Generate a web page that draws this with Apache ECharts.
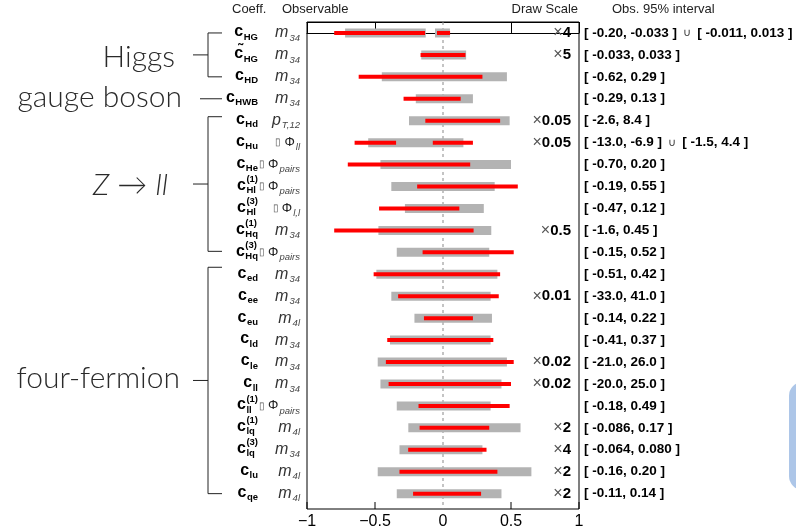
<!DOCTYPE html>
<html>
<head>
<meta charset="utf-8">
<title>EFT coefficient intervals</title>
<script src="https://cdn.jsdelivr.net/npm/echarts@6/dist/echarts.min.js"></script>
<style>
  html, body { margin: 0; padding: 0; background: #fff; }
  #chart { width: 796px; height: 526px; }
</style>
</head>
<body>
<div id="chart"></div>
<script>
// ---- data -------------------------------------------------------------
// Wilson coefficient labels: base symbol, subscript, superscript
const coeffBase = ['c', 'c\u0303', 'c', 'c', 'c', 'c', 'c', 'c', 'c', 'c', 'c',
                   'c', 'c', 'c', 'c', 'c', 'c', 'c', 'c', 'c', 'c', 'c'];
const coeffSub = ['HG', 'HG', 'HD', 'HWB', 'Hd', 'Hu', 'He', 'Hl', 'Hl', 'Hq', 'Hq',
                  'ed', 'ee', 'eu', 'ld', 'le', 'll', 'll', 'lq', 'lq', 'lu', 'qe'];
const coeffSup = ['', '', '', '', '', '', '', '(1)', '(3)', '(1)', '(3)',
                  '', '', '', '', '', '', '(1)', '(1)', '(3)', '', ''];

// Observable used for each coefficient
const obsPrefix = ['', '', '', '', '', '\u25AF', '\u25AF', '\u25AF', '\u25AF', '', '\u25AF',
                   '', '', '', '', '', '', '\u25AF', '', '', '', ''];
const obsMain = ['m', 'm', 'm', 'm', 'p', '\u03A6', '\u03A6', '\u03A6', '\u03A6', 'm', '\u03A6',
                 'm', 'm', 'm', 'm', 'm', 'm', '\u03A6', 'm', 'm', 'm', 'm'];
const obsSub = ['34', '34', '34', '34', 'T,12', 'll', 'pairs', 'pairs', 'l,l', '34', 'pairs',
                '34', '34', '4l', '34', '34', '34', 'pairs', '4l', '34', '4l', '4l'];

// Draw scale applied to each row ('' = 1)
const drawScale = ['4', '5', '', '', '0.05', '0.05', '', '', '', '0.5', '',
                   '', '0.01', '', '', '0.02', '0.02', '', '2', '4', '2', '2'];

// Observed 95% intervals (unscaled), possibly disjoint
const obsInterval = [
  [['-0.20', '-0.033'], ['-0.011', '0.013']],
  [['-0.033', '0.033']],
  [['-0.62', '0.29']],
  [['-0.29', '0.13']],
  [['-2.6', '8.4']],
  [['-13.0', '-6.9'], ['-1.5', '4.4']],
  [['-0.70', '0.20']],
  [['-0.19', '0.55']],
  [['-0.47', '0.12']],
  [['-1.6', '0.45']],
  [['-0.15', '0.52']],
  [['-0.51', '0.42']],
  [['-33.0', '41.0']],
  [['-0.14', '0.22']],
  [['-0.41', '0.37']],
  [['-21.0', '26.0']],
  [['-20.0', '25.0']],
  [['-0.18', '0.49']],
  [['-0.086', '0.17']],
  [['-0.064', '0.080']],
  [['-0.16', '0.20']],
  [['-0.11', '0.14']]
];

// Expected 95% intervals, already multiplied by the draw scale
const expectedScaled = [
  [[-0.72, -0.127], [-0.059, 0.051]],
  [[-0.16, 0.17]],
  [[-0.45, 0.47]],
  [[-0.20, 0.22]],
  [[-0.25, 0.49]],
  [[-0.55, 0.15]],
  [[-0.46, 0.50]],
  [[-0.38, 0.38]],
  [[-0.28, 0.30]],
  [[-0.475, 0.355]],
  [[-0.34, 0.34]],
  [[-0.49, 0.40]],
  [[-0.38, 0.35]],
  [[-0.21, 0.36]],
  [[-0.39, 0.35]],
  [[-0.48, 0.47]],
  [[-0.46, 0.43]],
  [[-0.34, 0.35]],
  [[-0.255, 0.57]],
  [[-0.32, 0.29]],
  [[-0.48, 0.65]],
  [[-0.34, 0.43]]
];

// Coefficient groups: label and first/last row
const groups = [
  { name: 'Higgs', first: 0, last: 2 },
  { name: 'gauge boson', first: 3, last: 3 },
  { name: 'Z \u2192 ll', first: 4, last: 10 },
  { name: 'four-fermion', first: 11, last: 21 }
];

// ---- series data built from the arrays above ---------------------------
const nRows = coeffSub.length;
const expData = [];
const obsData = [];
for (let r = 0; r < nRows; r++) {
  expectedScaled[r].forEach(s => expData.push([s[0], r, s[1]]));
  const k = drawScale[r] === '' ? 1 : parseFloat(drawScale[r]);
  obsInterval[r].forEach(s => obsData.push([parseFloat(s[0]) * k, r, parseFloat(s[1]) * k]));
}
const rowData = [];
for (let r = 0; r < nRows; r++) rowData.push([0, r]);

// ---- styling helpers ---------------------------------------------------
const FONT = '"Liberation Sans", Arial, Helvetica, sans-serif';
const LIGHT = 'Lato, "Open Sans", sans-serif';
const measureCtx = document.createElement('canvas').getContext('2d');
function textWidth(str, size, weight) {
  measureCtx.font = (weight || 'normal') + ' ' + size + 'px ' + FONT;
  return measureCtx.measureText(str).width;
}
function tok(size, weight, style, color, padding) {
  const o = { fontFamily: FONT, fontSize: size, fontWeight: weight || 'normal',
              fontStyle: style || 'normal', fill: color || '#000' };
  if (padding) o.padding = padding;
  return o;
}

const COEFF_RIGHT = 258;
const OBS_RIGHT = 300;
const SCALE_RIGHT = 571;
const INTERVAL_LEFT = 584;

function barRenderer(height, color) {
  return function (params, api) {
    const p0 = api.coord([api.value(0), api.value(1)]);
    const p1 = api.coord([api.value(2), api.value(1)]);
    return {
      type: 'rect',
      shape: { x: p0[0], y: p0[1] - height / 2, width: p1[0] - p0[0], height: height },
      style: { fill: color }
    };
  };
}

function labelRenderer(params, api) {
  const r = api.value(1);
  const y = api.coord([0, r])[1];
  const children = [];

  // coefficient symbol with stacked sub/superscripts
  const bw = textWidth(coeffBase[r], 16, 'bold');
  const sw = textWidth(coeffSub[r], 9.5, 'bold');
  const uw = coeffSup[r] ? textWidth(coeffSup[r], 9.5, 'bold') : 0;
  const x0 = COEFF_RIGHT - bw - Math.max(sw, uw) - 0.5;
  children.push({ type: 'text', x: x0, y: y - 1,
    style: Object.assign(tok(16, 'bold'), { text: coeffBase[r], align: 'left', verticalAlign: 'middle' }) });
  children.push({ type: 'text', x: x0 + bw + 0.5, y: y + 4,
    style: Object.assign(tok(9.5, 'bold'), { text: coeffSub[r], align: 'left', verticalAlign: 'middle' }) });
  if (coeffSup[r]) {
    children.push({ type: 'text', x: x0 + bw + 0.5, y: y - 7,
      style: Object.assign(tok(9.5, 'bold'), { text: coeffSup[r], align: 'left', verticalAlign: 'middle' }) });
  }

  // observable
  const isPhi = obsMain[r] === '\u03A6';
  let obsText = '';
  if (obsPrefix[r]) obsText += '{pre|' + obsPrefix[r] + '}';
  obsText += (isPhi ? '{phi|' : '{m|') + obsMain[r] + '}{s|' + obsSub[r] + '}';
  children.push({ type: 'text', x: OBS_RIGHT, y: y,
    style: {
      text: obsText, align: 'right', verticalAlign: 'middle',
      fontFamily: FONT, fontSize: 14, fill: '#333',
      rich: {
        pre: tok(10, 'normal', 'normal', '#555', [0, 3, 0, 0]),
        phi: tok(13, 'normal', 'normal', '#222'),
        m: tok(16, 'normal', 'italic', '#333'),
        s: tok(9.5, 'normal', 'italic', '#444', [10, 0, 0, 1])
      }
    } });

  // draw scale
  if (drawScale[r]) {
    children.push({ type: 'text', x: SCALE_RIGHT, y: y,
      style: {
        text: '{x|\u00D7}{n|' + drawScale[r] + '}', align: 'right', verticalAlign: 'middle',
        fontFamily: FONT, fontSize: 15, fill: '#000',
        rich: { x: tok(16, 'normal', 'normal', '#555'), n: tok(15, 'bold', 'normal', '#000') }
      } });
  }

  // observed interval text
  const parts = obsInterval[r].map(s => '{b|[ ' + s[0] + ', ' + s[1] + ' ]}');
  children.push({ type: 'text', x: INTERVAL_LEFT, y: y,
    style: {
      text: parts.join('{u|  \u222A  }'), align: 'left', verticalAlign: 'middle',
      fontFamily: FONT, fontSize: 13.5, fill: '#000',
      rich: { b: tok(13.5, 'bold', 'normal', '#000'), u: tok(11, 'normal', 'normal', '#333') }
    } });

  return { type: 'group', children: children };
}

function zeroLineRenderer(params, api) {
  const a = api.coord([0, -0.5]);
  const b = api.coord([0, 21.7]);
  return {
    type: 'line',
    shape: { x1: a[0], y1: a[1], x2: b[0], y2: b[1] },
    style: { stroke: '#8a8a8a', lineWidth: 1, lineDash: [3, 3] }
  };
}

const fmtTick = v => (v < 0 ? '\u2212' + Math.abs(v) : String(v));

const chart = echarts.init(document.getElementById('chart'), null, { renderer: 'canvas' });

const tickValues = [-1, -0.5, 0.5, 1];
const xAxisBase = {
  type: 'value', min: -1, max: 1, interval: 0.5,
  splitLine: { show: false },
  axisLine: { show: true, lineStyle: { color: '#000', width: 1 } },
  axisTick: { show: true, inside: true, length: 7, customValues: tickValues,
              lineStyle: { color: '#000', width: 1 } }
};

chart.setOption({
  animation: false,
  backgroundColor: '#fff',
  grid: { left: 307, right: 217, top: 22, height: 487, show: true,
          containLabel: false, outerBoundsMode: 'none',
          borderColor: '#000', borderWidth: 1, backgroundColor: 'transparent' },
  xAxis: [
    Object.assign({}, xAxisBase, {
      position: 'bottom',
      axisLabel: { show: true, formatter: fmtTick, margin: 5,
                   fontFamily: FONT, fontSize: 16, color: '#000' }
    }),
    Object.assign({}, xAxisBase, { position: 'top', axisLabel: { show: false } })
  ],
  yAxis: {
    type: 'value', inverse: true, min: -0.5, max: 21.7,
    axisLine: { show: false }, axisTick: { show: false },
    axisLabel: { show: false }, splitLine: { show: false }
  },
  series: [
    { type: 'custom', name: 'zero', data: [[0, 0]], renderItem: zeroLineRenderer, z: 1, silent: true },
    { type: 'custom', name: 'Expected', data: expData, encode: { x: [0, 2], y: 1 },
      renderItem: barRenderer(9, '#b3b3b3'), z: 2, silent: true },
    { type: 'custom', name: 'Observed', data: obsData, encode: { x: [0, 2], y: 1 },
      renderItem: barRenderer(4, '#ff0000'), z: 3, silent: true },
    { type: 'custom', name: 'labels', data: rowData, encode: { x: 0, y: 1 },
      renderItem: labelRenderer, clip: false, z: 4, silent: true }
  ]
});

// ---- headers, group brackets and side decoration ------------------------
const rowY = r => chart.convertToPixel({ gridIndex: 0 }, [0, r])[1];
const graphics = [];
const header = (text, x, align) => graphics.push({
  type: 'text', x: x, y: 9,
  style: { text: text, align: align, verticalAlign: 'middle', fontFamily: FONT, fontSize: 13, fill: '#222' }
});
header('Coeff.', 232, 'left');
header('Observable', 282, 'left');
header('Draw Scale', 578, 'right');
header('Obs. 95% interval', 612, 'left');

const BX = 208, BR = 222, TICK_L = 193;
const lineStyle = { stroke: '#222', lineWidth: 1 };
const groupLayout = [
  { topOff: 0, botOff: 0, labelX: 175, labelDy: 2 },
  { topOff: 0, botOff: 0, labelX: 182, labelDy: -1 },
  { topOff: -4, botOff: -1, labelX: 168, labelDy: 1 },
  { topOff: -7, botOff: 0, labelX: 180, labelDy: -2 }
];
groups.forEach((g, i) => {
  const L = groupLayout[i];
  let mid;
  if (g.first === g.last) {
    mid = rowY(g.first);
    graphics.push({ type: 'line', shape: { x1: 200, y1: mid, x2: BR, y2: mid }, style: lineStyle });
  } else {
    const t = rowY(g.first) + L.topOff;
    const b = rowY(g.last) + L.botOff;
    mid = (t + b) / 2;
    graphics.push({ type: 'polyline', shape: { points: [[BR, t], [BX, t], [BX, b], [BR, b]] }, style: Object.assign({ fill: null }, lineStyle) });
    graphics.push({ type: 'line', shape: { x1: TICK_L, y1: mid, x2: BX, y2: mid }, style: lineStyle });
  }
  const light = (style) => ({ fontFamily: LIGHT, fontSize: 30, fontWeight: 300, fontStyle: style, fill: '#2a2a2a' });
  const label = g.name === 'Z \u2192 ll'
    ? { text: '{i|Z} {n|\u2192} {i|ll}', rich: { i: light('italic'), n: light('normal') } }
    : { text: g.name };
  graphics.push({
    type: 'text', x: L.labelX, y: mid + L.labelDy,
    style: Object.assign({ align: 'right', verticalAlign: 'middle' }, light('normal'), label)
  });
});

// bottom-axis inner tick marks (drawn in data space of the x axis)
tickValues.forEach(v => {
  const p = chart.convertToPixel({ xAxisIndex: 0, yAxisIndex: 0 }, [v, 21.7]);
  graphics.push({ type: 'line', shape: { x1: p[0], y1: p[1], x2: p[0], y2: p[1] - 7 },
                  style: { stroke: '#000', lineWidth: 1 } });
});

// light blue tab at the right edge
graphics.push({
  type: 'rect', shape: { x: 789, y: 382, width: 30, height: 108, r: 14 },
  style: { fill: '#adc6e8' }
});

chart.setOption({ graphic: graphics });
</script>
</body>
</html>
